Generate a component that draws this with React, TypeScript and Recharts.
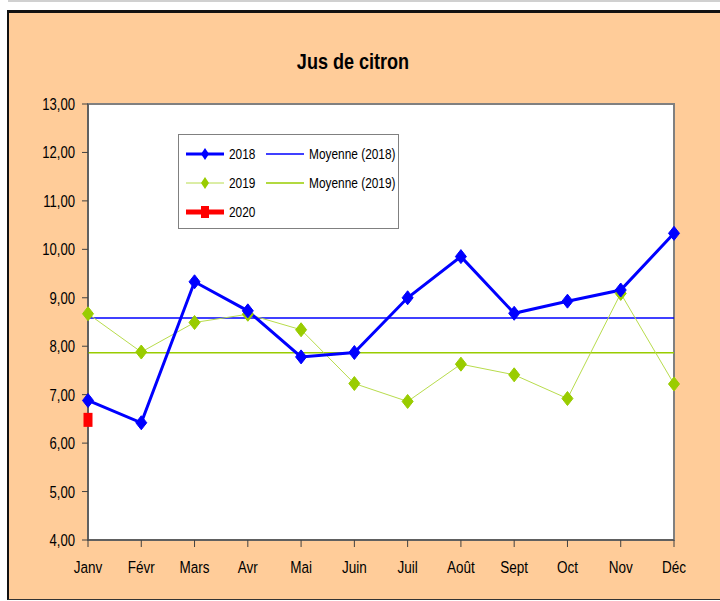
import React from "react"
import { LineChart, Line, XAxis, YAxis, ReferenceLine, ReferenceArea } from "recharts"

const months = ["Janv", "Févr", "Mars", "Avr", "Mai", "Juin", "Juil", "Août", "Sept", "Oct", "Nov", "Déc"]
const values2018 = [6.88, 6.42, 9.33, 8.73, 7.78, 7.87, 9.0, 9.85, 8.68, 8.93, 9.16, 10.33]
const values2019 = [8.67, 7.88, 8.49, 8.66, 8.34, 7.23, 6.86, 7.63, 7.41, 6.92, 9.09, 7.22]
const values2020 = [6.48, null, null, null, null, null, null, null, null, null, null, null]
const yTicks = [4, 5, 6, 7, 8, 9, 10, 11, 12, 13]

const mean = (arr: number[]) => arr.reduce((s, v) => s + v, 0) / arr.length
const mean2018 = mean(values2018)
const mean2019 = mean(values2019)

const data = months.map((m, i) => ({
  month: m,
  y2018: values2018[i],
  y2019: values2019[i],
  y2020: values2020[i],
}))

const BLUE = "#0000FF"
const GREEN = "#99CC00"
const LIGHT_GREEN = "#B8DC4C"
const RED = "#FF0000"
const FONT = '"Liberation Sans", Arial, sans-serif'
const NARROW = 0.82

const diamond = (color: string) => (props: any) => {
  const { cx, cy, key } = props
  if (cx == null || cy == null) return <g key={key} />
  return (
    <path
      key={key}
      d={`M${cx},${cy - 7} L${cx + 5.5},${cy} L${cx},${cy + 7} L${cx - 5.5},${cy} Z`}
      fill={color}
      stroke={color}
      strokeWidth={1}
    />
  )
}

const square = (props: any) => {
  const { cx, cy, key } = props
  if (cx == null || cy == null) return <g key={key} />
  return <rect key={key} x={cx - 4.5} y={cy - 7} width={9} height={14} fill={RED} />
}

const fmt = (v: number) => v.toFixed(2).replace(".", ",")

// Arial Narrow look: squeeze Liberation Sans horizontally
const NarrowText = ({ x, y, anchor, children, size = 16 }: any) => (
  <g transform={`translate(${x},${y})`}>
    <text transform={`scale(${NARROW},1)`} textAnchor={anchor} fontSize={size} fill="#000">
      {children}
    </text>
  </g>
)

const XTick = (props: any) => (
  <NarrowText x={props.x} y={props.y + 12} anchor="middle" size={16.5}>
    {props.payload.value}
  </NarrowText>
)

const YTick = (props: any) => (
  <NarrowText x={props.x} y={props.y + 6} anchor="end">
    {fmt(props.payload.value)}
  </NarrowText>
)

function ChartLegend() {
  return (
    <svg width={221} height={95} style={{ position: "absolute", left: 178, top: 134 }}>
      <rect x={0.5} y={0.5} width={220} height={94} fill="#fff" stroke="#808080" />
      <line x1={8} x2={46} y1={20} y2={20} stroke={BLUE} strokeWidth={3} />
      <path d="M27,14 L31,20 L27,26 L23,20 Z" fill={BLUE} />
      <NarrowText x={51} y={25} size={14.5}>2018</NarrowText>
      <line x1={88} x2={126} y1={20} y2={20} stroke={BLUE} strokeWidth={1.5} />
      <NarrowText x={131} y={25} size={14.5}>Moyenne (2018)</NarrowText>

      <line x1={8} x2={46} y1={49} y2={49} stroke={LIGHT_GREEN} strokeWidth={1} />
      <path d="M27,43 L31,49 L27,55 L23,49 Z" fill={GREEN} />
      <NarrowText x={51} y={54} size={14.5}>2019</NarrowText>
      <line x1={88} x2={126} y1={49} y2={49} stroke={GREEN} strokeWidth={1.5} />
      <NarrowText x={131} y={54} size={14.5}>Moyenne (2019)</NarrowText>

      <line x1={8} x2={46} y1={78} y2={78} stroke={RED} strokeWidth={5} />
      <rect x={23} y={72} width={8} height={12} fill={RED} />
      <NarrowText x={51} y={83} size={14.5}>2020</NarrowText>
    </svg>
  )
}

export default function App() {
  return (
    <div
      style={{
        position: "fixed",
        left: 0,
        top: 0,
        width: 720,
        height: 601,
        background: "#fff",
        overflow: "hidden",
        fontFamily: FONT,
      }}
    >
      <div style={{ position: "absolute", left: 8, top: 0, width: 712, height: 2, background: "#d0d0d0" }} />
      <div
        style={{
          position: "absolute",
          left: 7,
          top: 10,
          width: 730,
          height: 586,
          background: "#FFCC99",
          borderTop: "3px solid #111",
          borderLeft: "2px solid #111",
          borderBottom: "1px solid #333",
        }}
      />
      <div
        style={{
          position: "absolute",
          left: 0,
          top: 49,
          width: 706,
          textAlign: "center",
          fontSize: 22,
          fontWeight: "bold",
          color: "#000",
          transform: `scaleX(${NARROW})`,
          transformOrigin: "353px 0",
        }}
      >
        Jus de citron
      </div>
      <div style={{ position: "absolute", left: 0, top: 0 }}>
        <LineChart width={720} height={601} data={data} margin={{ top: 104, right: 46, bottom: 31, left: 0 }}>
          <ReferenceArea y1={4} y2={13} fill="#fff" fillOpacity={1} stroke="#808080" strokeWidth={2} />
          <XAxis
            dataKey="month"
            stroke="#404040"
            tickSize={7}
            tickMargin={14}
            height={30}
            tick={<XTick />}
            interval={0}
          />
          <YAxis
            domain={[4, 13]}
            ticks={yTicks}
            width={88}
            stroke="#404040"
            tickSize={6}
            tickMargin={7}
            tick={<YTick />}
            allowDataOverflow
          />
          <ReferenceLine y={mean2018} stroke={BLUE} strokeWidth={1.5} />
          <ReferenceLine y={mean2019} stroke={GREEN} strokeWidth={1.5} />
          <Line dataKey="y2019" stroke={LIGHT_GREEN} strokeWidth={1} dot={diamond(GREEN)} isAnimationActive={false} />
          <Line dataKey="y2018" stroke={BLUE} strokeWidth={3} dot={diamond(BLUE)} isAnimationActive={false} />
          <Line dataKey="y2020" stroke={RED} strokeWidth={5} dot={square} isAnimationActive={false} />
        </LineChart>
      </div>
      <ChartLegend />
    </div>
  )
}
